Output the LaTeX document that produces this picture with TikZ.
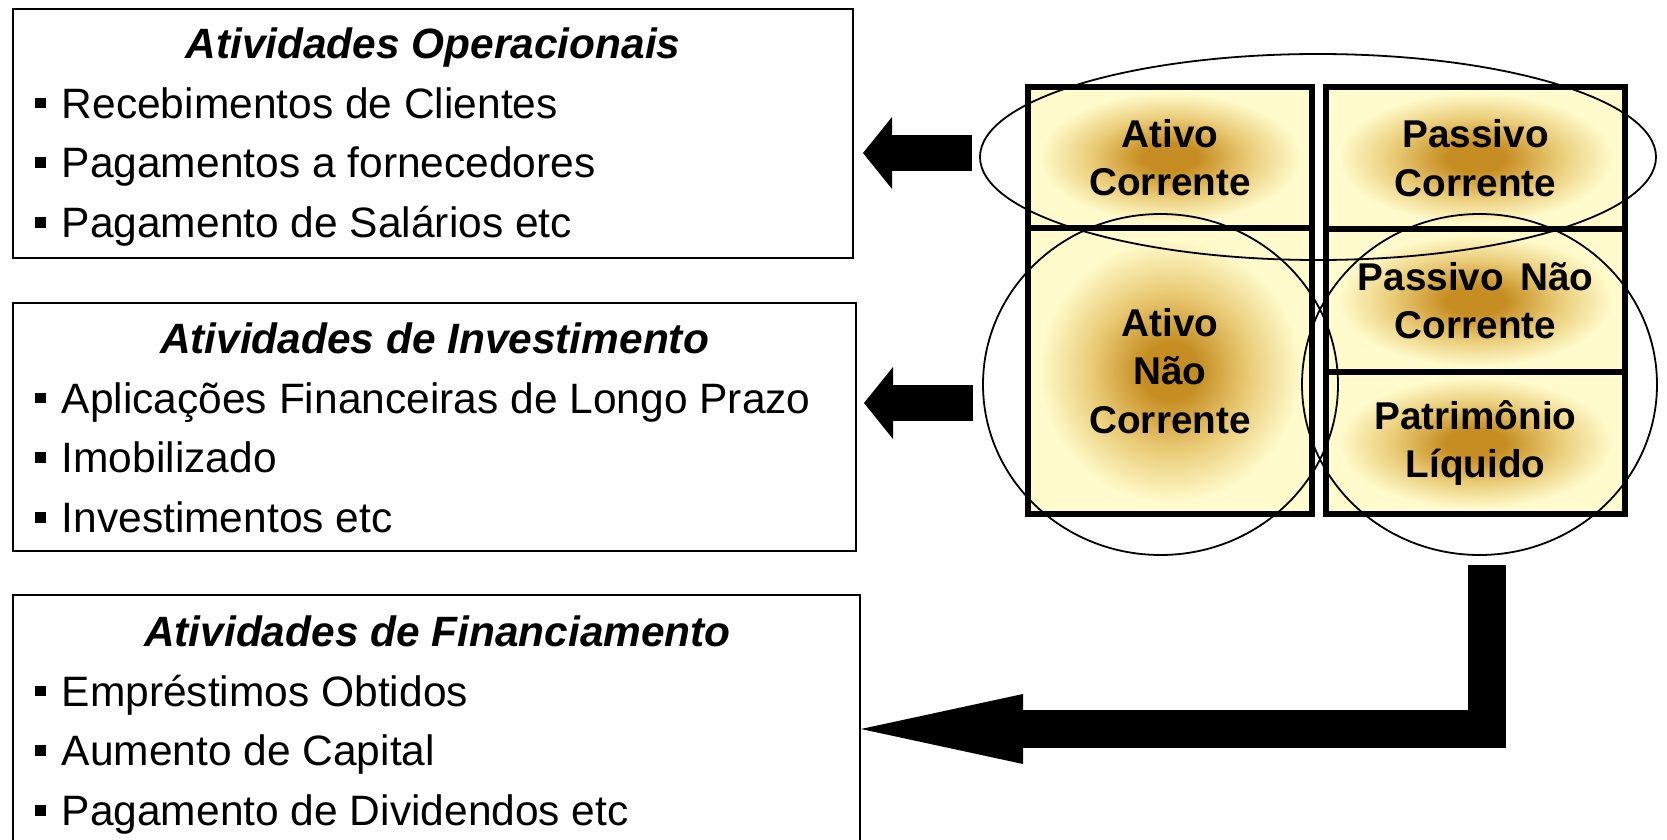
\documentclass[tikz,border=0pt]{standalone}
\usepackage{fontspec}
\setmainfont{Liberation Sans}
\usetikzlibrary{arrows.meta}

\definecolor{cellLight}{RGB}{255,251,204}
\definecolor{cellMid}{RGB}{234,204,120}
\definecolor{cellDark}{RGB}{198,142,34}
\pgfdeclareradialshading{cellglow}{\pgfpoint{0bp}{0bp}}{color(0bp)=(cellDark); color(5bp)=(cellDark); color(14bp)=(cellMid); color(23bp)=(cellLight); color(50bp)=(cellLight)}

\newcommand{\sqbul}{\rule[0.23em]{0.25em}{0.25em}\hspace{0.37em}}

\tikzset{
  actbox/.style={draw, line width=1pt, inner sep=0pt},
  acttitle/.style={anchor=base, inner sep=0pt, font=\fontsize{21.2}{25}\selectfont\bfseries\itshape},
  actitem/.style={anchor=base west, inner sep=0pt, font=\fontsize{21.25}{25}\selectfont},
  bcell/.style={draw, line width=3pt, shade, shading=cellglow, align=center, inner sep=0pt, font=\fontsize{19.35}{24.25}\selectfont\bfseries},
  group/.style={line width=0.9pt},
  blockarrow/.style={line width=18pt, -{Triangle[length=14.5pt, width=36pt, line width=0pt]}}
}

\begin{document}
\begin{tikzpicture}[x=0.5pt,y=-0.5pt]
\useasboundingbox (0,0) rectangle (1667,840);

\node[actbox, minimum width=420pt, minimum height=124.5pt] (op) at (433,133.5) {};
\node[actbox, minimum width=421.5pt, minimum height=124pt] (inv) at (434.5,427) {};
\node[actbox, minimum width=423.5pt, minimum height=134pt] (fin) at (436.5,729) {};

\node[acttitle] (opT) at (433,58.5) {Atividades Operacionais};
\node[actitem] (op1) at (35,118.2) {\sqbul Recebimentos de Clientes};
\node[actitem] (op2) at (35,177.9) {\sqbul Pagamentos a fornecedores};
\node[actitem] (op3) at (35,237.6) {\sqbul Pagamento de Salários etc};

\node[acttitle] (invT) at (434.5,353) {Atividades de Investimento};
\node[actitem] (inv1) at (35,413) {\sqbul Aplicações Financeiras de Longo Prazo};
\node[actitem] (inv2) at (35,472.7) {\sqbul Imobilizado};
\node[actitem] (inv3) at (35,532.4) {\sqbul Investimentos etc};

\node[acttitle] (finT) at (437.5,646.5) {Atividades de Financiamento};
\node[actitem] (fin1) at (35,706) {\sqbul Empréstimos Obtidos};
\node[actitem] (fin2) at (35,765.7) {\sqbul Aumento de Capital};
\node[actitem] (fin3) at (35,825.4) {\sqbul Pagamento de Dividendos etc};

\node[bcell, minimum width=142pt, minimum height=70.5pt] (AC) at (1170,157.5) {Ativo\\Corrente};
\node[bcell, minimum width=142pt, minimum height=143pt] (ANC) at (1170,371) {Ativo\\Não\\Corrente};
\node[bcell, minimum width=149.5pt, minimum height=71pt] (PC) at (1475.5,158) {Passivo\\Corrente};
\node[bcell, minimum width=149.5pt, minimum height=71.5pt] (PNC) at (1475.5,300.5) {Passivo\hspace{0.42em}Não\\Corrente};
\node[bcell, minimum width=149.5pt, minimum height=71pt] (PL) at (1475.5,443) {Patrimônio\\Líquido};

\draw[group] (1318,157) ellipse [x radius=169pt, y radius=51.5pt];
\draw[group] (1160.5,384.5) ellipse [x radius=88.75pt, y radius=85.25pt];
\draw[group] (1479.5,384.5) ellipse [x radius=88.75pt, y radius=85.25pt];

\coordinate (a1s) at (972,153);
\coordinate (a2s) at (973,403);
\coordinate (a3s) at (1487,565);
\draw[blockarrow, shorten >=4.5pt] (a1s) -- (a1s -| op.east);
\draw[blockarrow, shorten >=3.5pt] (a2s) -- (a2s -| inv.east);
\draw[blockarrow, line width=19pt, -{Triangle[length=81pt, width=35pt, line width=0pt]}] (a3s) |- (fin.east);
\end{tikzpicture}
\end{document}
